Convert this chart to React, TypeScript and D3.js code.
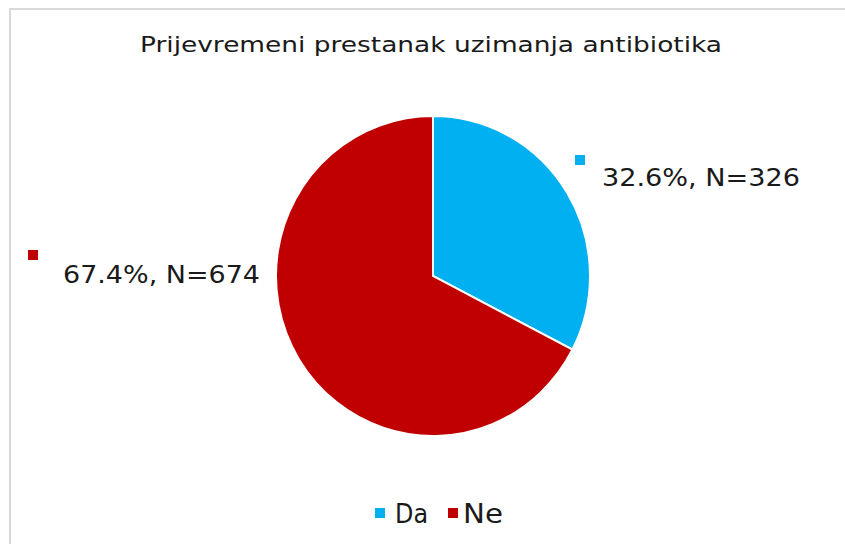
import React, { useEffect } from 'react';
import * as d3 from 'd3';

const categories = ['Da', 'Ne'];
const counts = [326, 674];
const percents = [32.6, 67.4];
const colors = ['#00B0F0', '#C00000'];
const title = 'Prijevremeni prestanak uzimanja antibiotika';

const W = 845;
const H = 544;
const FONT = '"DejaVu Sans", Verdana, sans-serif';

export default function App() {
  useEffect(() => {
    document.body.style.margin = '0';
  }, []);

  // pie geometry
  const cx = 433;
  const cy = 276;
  const r = 157;
  const squash = 160 / 157;

  const pie = d3.pie<number>().sort(null).value(d => d);
  const arcs = pie(counts);
  const arc = d3.arc<d3.PieArcDatum<number>>().innerRadius(0).outerRadius(r);

  // label anchors (squares + text)
  const labelPos = [
    { sx: 575, sy: 155, tx: 602, ty: 186, tw: 198 },
    { sx: 28, sy: 250, tx: 63, ty: 283, tw: 197 },
  ];
  const legendPos = [
    { sx: 375, tx: 395, tw: 33 },
    { sx: 448, tx: 463, tw: 40 },
  ];

  return (
    <svg width={W} height={H} style={{ display: 'block', background: '#fff' }}>
      <rect x={10} y={9} width={900} height={600} fill="#fff" stroke="#d9d9d9" strokeWidth={2} />
      <text x={140} y={52} fontFamily={FONT} fontSize={22} fill="#1a1a1a"
        textLength={582} lengthAdjust="spacingAndGlyphs">
        {title}
      </text>

      <g transform={`translate(${cx},${cy}) scale(1,${squash})`}>
        {arcs.map((a, i) => (
          <path key={i} d={arc(a) || ''} fill={colors[i]} stroke="#fff" strokeWidth={2} />
        ))}
      </g>

      {arcs.map((a, i) => (
        <g key={'l' + i}>
          <rect x={labelPos[i].sx} y={labelPos[i].sy} width={10} height={10} fill={colors[i]} />
          <text x={labelPos[i].tx} y={labelPos[i].ty} fontFamily={FONT} fontSize={25} fill="#1a1a1a"
            textLength={labelPos[i].tw} lengthAdjust="spacingAndGlyphs">
            {`${percents[i].toFixed(1)}%, N=${counts[i]}`}
          </text>
        </g>
      ))}

      {categories.map((c, i) => (
        <g key={'lg' + c}>
          <rect x={legendPos[i].sx} y={508} width={10} height={10} fill={colors[i]} />
          <text x={legendPos[i].tx} y={523} fontFamily={FONT} fontSize={26} fill="#1a1a1a"
            textLength={legendPos[i].tw} lengthAdjust="spacingAndGlyphs">{c}</text>
        </g>
      ))}
    </svg>
  );
}
